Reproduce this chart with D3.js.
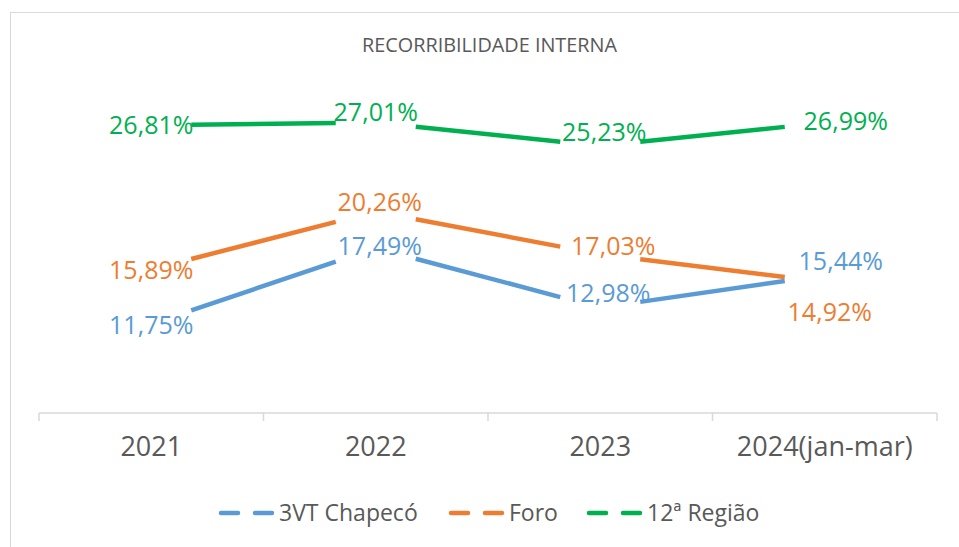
<!DOCTYPE html>
<html>
<head>
<meta charset="utf-8">
<script src="https://cdn.jsdelivr.net/npm/d3@7"></script>
<style>
  body { margin: 0; background: #fff; }
  svg { display: block; font-family: "Open Sans", "Noto Sans", sans-serif; }
</style>
</head>
<body>
<svg id="chart" width="959" height="547"></svg>
<script>
// data
const categories = ['2021', '2022', '2023', '2024(jan-mar)'];
const seriesNames = ['3VT Chapecó', 'Foro', '12ª Região'];
const chapeco = [11.75, 17.49, 12.98, 15.44];
const foro = [15.89, 20.26, 17.03, 14.92];
const regiao = [26.81, 27.01, 25.23, 26.99];

// layout only: where each data label sits relative to its point
const labelDx = [[0, 4, 8, 16], [0, 4, 13, 5], [0, 0, 4, 21]];
const labelDy = [[1, -2, -15, -14], [1, -10, -8, 30], [0, -10, -14, -2]];

const colors = ['#5B9BD5', '#ED7D31', '#00B050'];
const values = [chapeco, foro, regiao];
const fontFamily = '"Open Sans", "Noto Sans", sans-serif';

const svg = d3.select('#chart');
const width = 959, height = 547;
const margin = { top: 83, right: 22, bottom: 134, left: 39 };

// chart frame
svg.append('rect')
  .attr('x', 10.5).attr('y', 12.5)
  .attr('width', 1000).attr('height', 600)
  .attr('fill', 'none').attr('stroke', '#d9d9d9');

svg.append('text')
  .attr('x', 489.5).attr('y', 52)
  .attr('text-anchor', 'middle')
  .attr('fill', '#595959')
  .style('font-size', '20px')
  .attr('textLength', 255).attr('lengthAdjust', 'spacingAndGlyphs')
  .text('RECORRIBILIDADE INTERNA');

const x = d3.scaleBand()
  .domain(categories)
  .range([margin.left, width - margin.right]);

const y = d3.scaleLinear()
  .domain([5, 30])
  .range([height - margin.bottom, margin.top]);

// x axis
const xAxis = svg.append('g')
  .attr('transform', 'translate(0,' + (height - margin.bottom) + ')')
  .call(d3.axisBottom(x).tickSize(8).tickSizeOuter(8))
  .attr('font-family', fontFamily);
xAxis.select('.domain').attr('stroke', '#d9d9d9').attr('stroke-width', 1.5)
  .attr('d', 'M' + margin.left + ',0H' + (width - margin.right));
xAxis.selectAll('.tick line').remove();
const edges = categories.map(c => x(c)).concat([x.range()[1]]);
xAxis.selectAll('.edge')
  .data(edges)
  .enter().append('line')
  .attr('x1', d => d).attr('x2', d => d)
  .attr('y1', 0).attr('y2', 8)
  .attr('stroke', '#d9d9d9').attr('stroke-width', 1.5);
xAxis.selectAll('.tick text')
  .attr('y', 0).attr('dy', 0)
  .attr('transform', 'translate(0,43)')
  .attr('fill', '#595959')
  .style('font-size', '27px');

const cx = c => x(c) + x.bandwidth() / 2;
const gap = 40;

// lines, cut open around each point
values.forEach((vals, s) => {
  const g = svg.append('g');
  const pts = vals.map((v, i) => [cx(categories[i]), y(v)]);
  d3.pairs(pts).forEach(([a, b]) => {
    const t = gap / (b[0] - a[0]);
    g.append('line')
      .attr('x1', a[0] + (b[0] - a[0]) * t)
      .attr('y1', a[1] + (b[1] - a[1]) * t)
      .attr('x2', b[0] - (b[0] - a[0]) * t)
      .attr('y2', b[1] - (b[1] - a[1]) * t)
      .attr('stroke', colors[s])
      .attr('stroke-width', 4.5);
  });

  g.selectAll('text')
    .data(vals)
    .enter().append('text')
    .attr('x', (d, i) => cx(categories[i]) + labelDx[s][i])
    .attr('y', (d, i) => y(d) + labelDy[s][i] + 9)
    .attr('text-anchor', 'middle')
    .attr('fill', colors[s])
    .style('font-size', '25px')
    .text(d => d.toFixed(2).replace('.', ',') + '%');
});

// legend
const legendX = [221, 451, 589];
const legend = svg.append('g').attr('transform', 'translate(0,513)');
seriesNames.forEach((name, s) => {
  legend.append('line')
    .attr('x1', legendX[s]).attr('x2', legendX[s] + 52)
    .attr('y1', 0).attr('y2', 0)
    .attr('stroke', colors[s])
    .attr('stroke-width', 4.5)
    .attr('stroke-linecap', 'round')
    .attr('stroke-dasharray', '17,17');
  legend.append('text')
    .attr('x', legendX[s] + 58).attr('y', 8)
    .attr('fill', '#595959')
    .style('font-size', '23px')
    .text(name);
});
</script>
</body>
</html>
